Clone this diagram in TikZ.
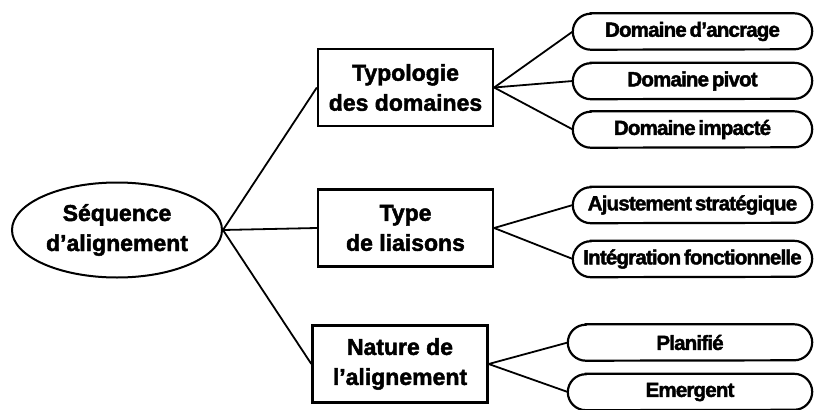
\documentclass[tikz,border=0pt]{standalone}
\usepackage{fontspec}
\setmainfont{Liberation Sans}[BoldFeatures={FakeBold=2}]
\newfontfamily\pillfamily{Liberation Sans}[LetterSpace=-4,WordSpace=0.6,BoldFeatures={FakeBold=2}]
\usetikzlibrary{shapes.geometric,calc}
\begin{document}
\begin{tikzpicture}[x=1pt,y=1pt,
  bigfont/.style={font=\bfseries\fontsize{23}{30}\selectfont},
  rootnode/.style={ellipse,draw,line width=2pt,minimum width=210pt,minimum height=95pt,
    inner sep=0pt,align=center,bigfont},
  catbox/.style={rectangle,draw,line width=2.3pt,minimum width=175pt,minimum height=77pt,
    inner sep=0pt,align=center,bigfont},
  pill/.style={rectangle,minimum width=239pt,minimum height=36pt,inner sep=0pt,
    font=\pillfamily\bfseries\fontsize{20.5}{22}\selectfont},
  pillline/.style={line width=2.2pt},
  link/.style={line width=1.8pt}]
\useasboundingbox (0,0) rectangle (815,-410);

% root and category nodes
\node[rootnode] (seq) at (117,-230) {Séquence\\d’alignement};
\node[catbox] (typo) at (405.5,-87.5) {Typologie\\des domaines};
\node[catbox] (type) at (405.5,-228) {Type\\de liaisons};
\node[catbox] (nat) at (400,-364) {Nature de\\l’alignement};

% leaf nodes
\node[pill] (anc) at (692.5,-31.5) {Domaine d’ancrage};
\node[pill] (piv) at (692.5,-81) {Domaine pivot};
\node[pill] (imp) at (692.5,-129.5) {Domaine impacté};
\node[pill] (aju) at (692.5,-205) {Ajustement stratégique};
\node[pill] (int) at (692.5,-259) {Intégration fonctionnelle};
\node[pill,minimum width=244pt] (pla) at (690,-342.5) {Planifié};
\node[pill,minimum width=244pt] (eme) at (690,-392) {Emergent};

% pill outlines with half-elliptic ends
\foreach \n in {anc,piv,imp,aju,int,pla,eme}{
  \draw[pillline] ($(\n.north west)+(18,0)$) -- ($(\n.north east)+(-18,0)$)
    arc[start angle=90,end angle=-90,x radius=18,y radius=18]
    -- ($(\n.south west)+(18,0)$)
    arc[start angle=270,end angle=90,x radius=18,y radius=18] -- cycle;
}

% connectors
\draw[link] (seq.east) -- (typo.west);
\draw[link] (seq.east) -- (type.west);
\draw[link] (seq.east) -- (nat.west);
\draw[link] (typo.east) -- (anc.west);
\draw[link] (typo.east) -- (piv.west);
\draw[link] (typo.east) -- (imp.west);
\draw[link] (type.east) -- (aju.west);
\draw[link] (type.east) -- (int.west);
\draw[link] (nat.east) -- (pla.west);
\draw[link] (nat.east) -- (eme.west);
\end{tikzpicture}
\end{document}
